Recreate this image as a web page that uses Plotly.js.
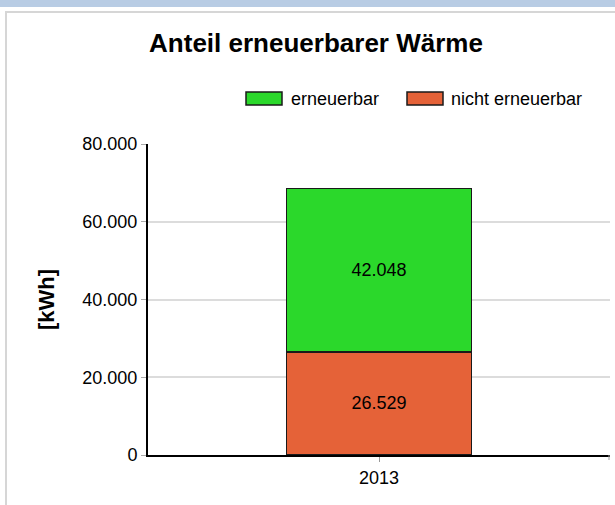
<!DOCTYPE html>
<html>
<head>
<meta charset="utf-8">
<script src="https://cdn.plot.ly/plotly-3.0.1.min.js"></script>
<style>
  html, body { margin: 0; padding: 0; background: #ffffff; }
  #band { position: absolute; left: 0; top: 0; width: 615px; height: 7px; background: #b8cce4; }
  #frame { position: absolute; left: 5px; top: 11px; width: 610px; height: 494px;
           border-top: 2px solid #d6d6d6; border-left: 2px solid #d6d6d6; box-sizing: border-box; }
  #chart { position: absolute; left: 0; top: 0; width: 615px; height: 505px; }
</style>
</head>
<body>
<div id="band"></div>
<div id="frame"></div>
<div id="chart"></div>
<script>
const categories = ['2013'];
const seriesNames = ['nicht erneuerbar', 'erneuerbar'];
const nichtErneuerbar = [26529];
const erneuerbar = [42048];
const yTickValues = [0, 20000, 40000, 60000, 80000];
const colors = ['#e56238', '#2bd82b'];

const FONT = 'Liberation Sans, Arial, sans-serif';

const traces = [
  { name: seriesNames[0], x: categories, y: nichtErneuerbar, type: 'bar',
    marker: { color: colors[0], line: { color: '#1a1a1a', width: 1.5 } },
    texttemplate: '%{y:,.0f}', textposition: 'inside', insidetextanchor: 'middle',
    textfont: { family: FONT, size: 18, color: '#000000' }, hoverinfo: 'none' },
  { name: seriesNames[1], x: categories, y: erneuerbar, type: 'bar',
    marker: { color: colors[1], line: { color: '#1a1a1a', width: 1.5 } },
    texttemplate: '%{y:,.0f}', textposition: 'inside', insidetextanchor: 'middle',
    textfont: { family: FONT, size: 18, color: '#000000' }, hoverinfo: 'none' }
];

// legend drawn as shapes + annotations (paper coords)
const px = v => (v - 148) / 462;
const py = v => (455 - v) / 311;

const layout = {
  width: 615, height: 505,
  margin: { l: 148, r: 5, t: 144, b: 50 },
  paper_bgcolor: 'rgba(0,0,0,0)', plot_bgcolor: 'rgba(0,0,0,0)',
  separators: ',.',
  barmode: 'stack', bargap: 0.6,
  showlegend: false,
  font: { family: FONT, color: '#000000' },
  title: { text: '<b>Anteil erneuerbarer Wärme</b>', font: { family: FONT, size: 26, color: '#000' },
           xref: 'container', x: 316 / 615, xanchor: 'center',
           yref: 'container', y: 1 - 43 / 505, yanchor: 'middle' },
  xaxis: { type: 'category', showline: true, linecolor: '#000', linewidth: 2,
           ticks: 'outside', ticklen: 5, tickcolor: '#999', tickwidth: 1,
           tickfont: { family: FONT, size: 18, color: '#000' }, showgrid: false, fixedrange: true },
  yaxis: { range: [0, 80000], tickvals: yTickValues, tickformat: ',d',
           showline: true, linecolor: '#000', linewidth: 2,
           ticks: 'outside', ticklen: 5, tickcolor: '#aaa', tickwidth: 1,
           showgrid: true, gridcolor: '#dcdcdc', gridwidth: 2, zeroline: false,
           tickfont: { family: FONT, size: 18, color: '#000' },
           title: { text: '<b>[kWh]</b>', font: { family: FONT, size: 22, color: '#000' }, standoff: 22 },
           fixedrange: true },
  shapes: [
    { type: 'rect', xref: 'paper', yref: 'paper', x0: px(246), x1: px(282), y0: py(105), y1: py(92),
      fillcolor: colors[1], line: { color: '#1a1a1a', width: 1.5 } },
    { type: 'rect', xref: 'paper', yref: 'paper', x0: px(407), x1: px(443), y0: py(105), y1: py(92),
      fillcolor: colors[0], line: { color: '#1a1a1a', width: 1.5 } },
    { type: 'line', xref: 'paper', yref: 'paper', x0: px(609), x1: px(609), y0: py(455), y1: py(460),
      line: { color: '#999', width: 1 } }
  ],
  annotations: [
    { xref: 'paper', yref: 'paper', x: px(289), y: py(98.5), xanchor: 'left', yanchor: 'middle',
      text: seriesNames[1], showarrow: false, font: { family: FONT, size: 18, color: '#000' } },
    { xref: 'paper', yref: 'paper', x: px(449), y: py(98.5), xanchor: 'left', yanchor: 'middle',
      text: seriesNames[0], showarrow: false, font: { family: FONT, size: 18, color: '#000' } }
  ]
};

Plotly.newPlot('chart', traces, layout, { displayModeBar: false, staticPlot: true });
</script>
</body>
</html>
